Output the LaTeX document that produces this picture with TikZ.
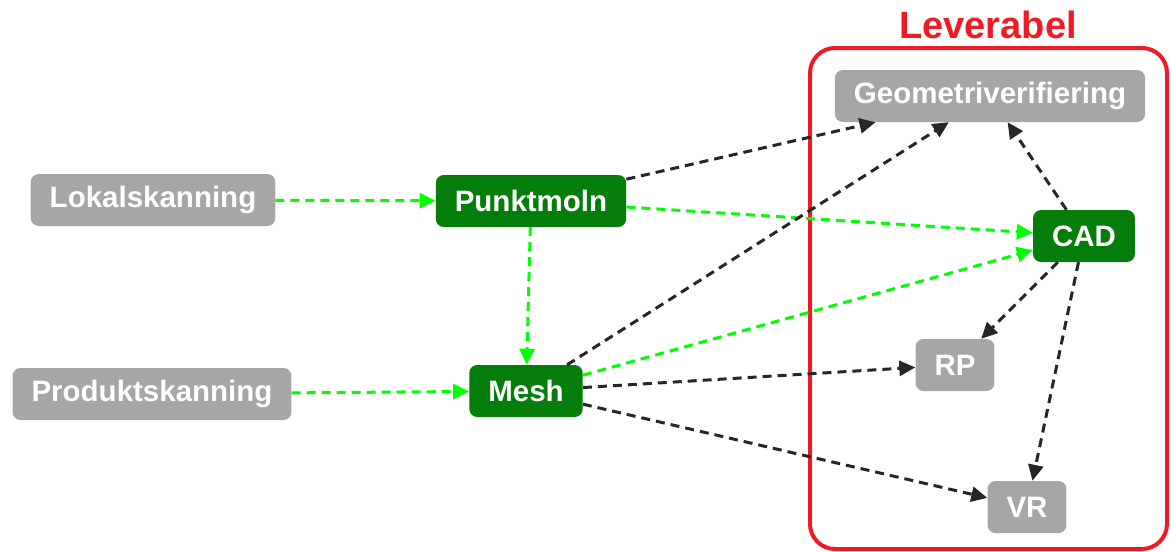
\documentclass[tikz,border=0pt]{standalone}
\usepackage{fontspec}
\setmainfont{Liberation Sans}
\usetikzlibrary{arrows.meta}
\definecolor{boxgray}{RGB}{166,166,166}
\definecolor{boxgreen}{RGB}{5,125,10}
\definecolor{lightgreen}{RGB}{0,255,0}
\definecolor{darkline}{RGB}{38,38,38}
\definecolor{levred}{RGB}{237,28,36}
\tikzset{
  every picture/.style={line join=round, >={Triangle[length=16pt,width=15pt]}},
  stage/.style={rounded corners=8pt, text=white, minimum height=52pt, inner xsep=19pt,
    font=\fontsize{29.5}{32}\selectfont\bfseries},
  graybox/.style={stage, fill=boxgray},
  greenbox/.style={stage, fill=boxgreen},
  flowg/.style={->, draw=lightgreen, line width=3pt, dash pattern=on 9pt off 6pt},
  flowk/.style={->, draw=darkline, line width=3pt, dash pattern=on 9pt off 6pt},
}

\begin{document}
\begin{tikzpicture}[x=1pt,y=-1pt]
\useasboundingbox (0,0) rectangle (1171,552);
\draw[levred,line width=4pt,rounded corners=25pt](810,48) rectangle (1167,549);
\node[text=levred,font=\fontsize{38}{40}\selectfont\bfseries] (lev) at (988,25) {Leverabel};
\node[graybox] (lokal) at (153,200) {Lokalskanning};
\node[graybox] (produkt) at (152,394) {Produktskanning};
\node[greenbox] (punkt) at (531,201) {Punktmoln};
\node[greenbox] (mesh) at (526,391) {Mesh};
\node[graybox] (geo) at (990,96) {Geometriverifiering};
\node[greenbox] (cad) at (1084,236) {CAD};
\node[graybox] (rp) at (955,365) {RP};
\node[graybox] (vr) at (1027,507) {VR};
% green flows
\draw[flowg](lokal)--(punkt);
\draw[flowg](produkt)--(mesh);
\draw[flowg](punkt)--(mesh);
\draw[flowg](punkt)--(cad);
\draw[flowg](mesh)--(cad);
% black flows
\draw[flowk](punkt)--(geo);
\draw[flowk](mesh)--(geo);
\draw[flowk](mesh)--(rp);
\draw[flowk](mesh)--(vr);
\draw[flowk](cad)--(geo);
\draw[flowk](cad)--(rp);
\draw[flowk](cad)--(vr);
\end{tikzpicture}
\end{document}
